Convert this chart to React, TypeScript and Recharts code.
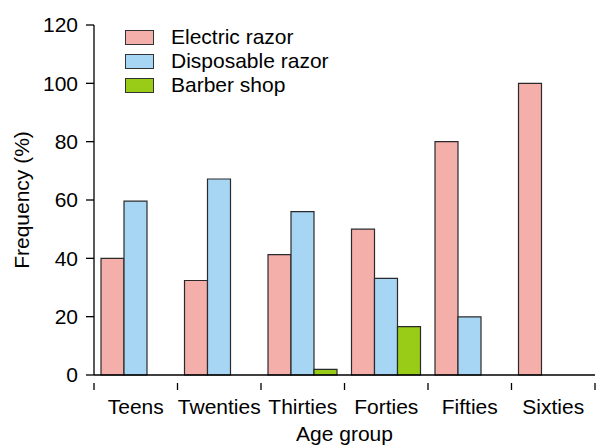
import React from "react"
import { BarChart, Bar, XAxis, YAxis } from "recharts"

const categories = ["Teens", "Twenties", "Thirties", "Forties", "Fifties", "Sixties"]
const electricRazor = [40, 32.4, 41.3, 50, 80, 100]
const disposableRazor = [59.6, 67.2, 56, 33.1, 19.9, null]
const barberShop = [null, null, 1.9, 16.6, null, null]
const yTicks = [0, 20, 40, 60, 80, 100, 120]

const data = categories.map((group, i) => ({
  group,
  electric: electricRazor[i],
  disposable: disposableRazor[i],
  barber: barberShop[i],
}))

const W = 597
const H = 446
const margin = { top: 25, right: 2, left: 0, bottom: 0 }
const yAxisWidth = 94
const xAxisHeight = 71
const plotW = W - margin.left - margin.right - yAxisWidth
const band = plotW / categories.length
const font = "'Liberation Sans', Arial, Helvetica, sans-serif"
const fs = 21

const series = [
  { key: "electric", name: "Electric razor", color: "#f4afab" },
  { key: "disposable", name: "Disposable razor", color: "#a6d6f4" },
  { key: "barber", name: "Barber shop", color: "#99cc17" },
]

const AgeTick = ({ x, y, payload, index }: any) => {
  const left = x - band / 2
  return (
    <g>
      <line x1={left} y1={y} x2={left} y2={y + 7} stroke="#000" strokeWidth={1.3} />
      {index === categories.length - 1 && (
        <line x1={x + band / 2} y1={y} x2={x + band / 2} y2={y + 7} stroke="#000" strokeWidth={1.3} />
      )}
      <text x={x} y={y + 31} textAnchor="middle" fontSize={fs} fill="#000" fontFamily={font}>
        {payload.value}
      </text>
    </g>
  )
}

// axis titles placed by hand, recharts' insideBottom clips the descenders
const XTitle = () => (
  <text x={yAxisWidth + plotW / 2} y={441} textAnchor="middle" fontSize={fs} fill="#000" fontFamily={font}>
    Age group
  </text>
)

const YTitle = () => (
  <text
    x={29}
    y={200}
    transform="rotate(-90 29 200)"
    textAnchor="middle"
    fontSize={fs}
    fill="#000"
    fontFamily={font}
  >
    Frequency (%)
  </text>
)

const LegendBox = () => (
  <div
    style={{
      position: "absolute",
      left: 125,
      top: 25,
      fontFamily: font,
      fontSize: fs,
      color: "#000",
      pointerEvents: "none",
    }}
  >
    {series.map((s) => (
      <div key={s.key} style={{ display: "flex", alignItems: "center", height: 24, whiteSpace: "nowrap" }}>
        <div
          style={{
            width: 27,
            height: 13,
            background: s.color,
            border: "1px solid #333",
            marginRight: 17,
          }}
        />
        <span>{s.name}</span>
      </div>
    ))}
  </div>
)

export default function App() {
  return (
    <div style={{ position: "absolute", left: 0, top: 0, width: W, height: H, background: "#fff" }}>
      <BarChart width={W} height={H} data={data} margin={margin} barCategoryGap={7} barGap={0}>
        <XAxis
          dataKey="group"
          height={xAxisHeight}
          tick={<AgeTick />}
          tickLine={false}
          axisLine={{ stroke: "#000", strokeWidth: 1.3 }}
          interval={0}
          label={<XTitle />}
        />
        <YAxis
          width={yAxisWidth}
          domain={[0, 120]}
          ticks={yTicks}
          tickSize={8}
          tickMargin={8}
          interval={0}
          tick={{ fontSize: fs, fill: "#000", fontFamily: font }}
          tickLine={{ stroke: "#000", strokeWidth: 1.3 }}
          axisLine={{ stroke: "#000", strokeWidth: 1.3 }}
          label={<YTitle />}
        />
        {series.map((s) => (
          <Bar
            key={s.key}
            dataKey={s.key}
            name={s.name}
            fill={s.color}
            stroke="#2a2a2a"
            strokeWidth={1.2}
            isAnimationActive={false}
          />
        ))}
      </BarChart>
      <LegendBox />
    </div>
  )
}
